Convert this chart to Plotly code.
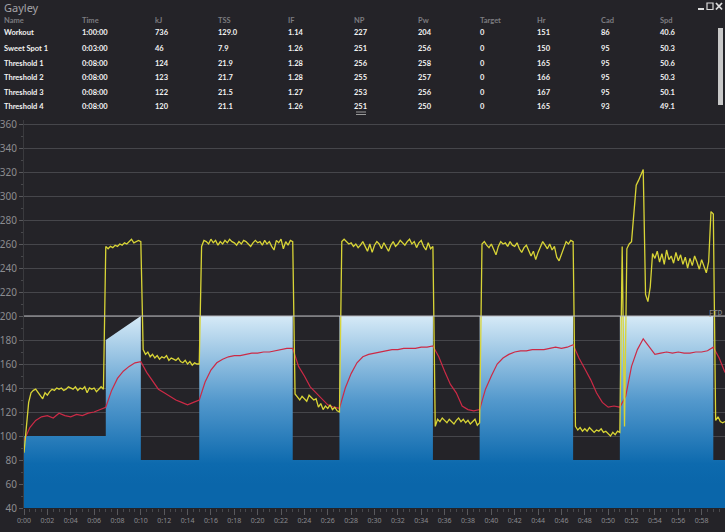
import numpy as np
import plotly.graph_objects as go

## DATA

# table above the chart
table_title = "Gayley"
table_headers = ["Name", "Time", "kJ", "TSS", "IF", "NP", "Pw", "Target", "Hr", "Cad", "Spd"]
table_rows = [
    ["Workout", "1:00:00", "736", "129.0", "1.14", "227", "204", "0", "151", "86", "40.6"],
    ["Sweet Spot 1", "0:03:00", "46", "7.9", "1.26", "251", "256", "0", "150", "95", "50.3"],
    ["Threshold 1", "0:08:00", "124", "21.9", "1.28", "256", "258", "0", "165", "95", "50.6"],
    ["Threshold 2", "0:08:00", "123", "21.7", "1.28", "255", "257", "0", "166", "95", "50.3"],
    ["Threshold 3", "0:08:00", "122", "21.5", "1.27", "253", "256", "0", "167", "95", "50.1"],
    ["Threshold 4", "0:08:00", "120", "21.1", "1.26", "251", "250", "0", "165", "93", "49.1"],
]

# target power (minutes, watts)
target_min = [0, 7, 7, 10, 10, 15, 15, 23, 23, 27, 27, 35, 35, 39, 39, 47, 47, 51, 51, 59, 59, 60]
target_w = [100, 100, 180, 200, 80, 80, 200, 200, 80, 80, 200, 200, 80, 80, 200, 200, 80, 80, 200, 200, 80, 80]
ftp = 200

# power, one value every 12 s (0.2 min), one row per minute
power_w = [
    86, 105, 128, 136, 138,
    139, 136, 133, 131, 136,
    134, 137, 139, 138, 140,
    139, 140, 138, 139, 141,
    140, 139, 141, 138, 140,
    139, 141, 136, 140, 139,
    140, 137, 139, 141, 139,
    258, 256, 258, 257, 259,
    258, 260, 259, 261, 260,
    262, 264, 261, 262, 263,
    262, 172, 168, 170, 166,
    168, 165, 167, 164, 166,
    165, 167, 163, 165, 164,
    163, 165, 162, 161, 163,
    160, 162, 159, 161, 160,
    160, 258, 263, 262, 260,
    264, 261, 263, 259, 262,
    260, 263, 261, 264, 262,
    261, 259, 262, 260, 263,
    262, 260, 258, 261, 263,
    261, 262, 259, 263, 260,
    262, 258, 255, 263, 261,
    264, 256, 262, 259, 263,
    262, 135, 132, 130, 133,
    131, 129, 134, 132, 130,
    131, 124, 127, 122, 125,
    123, 126, 122, 124, 121,
    120, 262, 264, 262, 260,
    261, 258, 260, 257, 259,
    262, 258, 254, 260, 253,
    259, 262, 260, 256, 261,
    257, 254, 259, 262, 258,
    260, 263, 261, 259, 262,
    264, 260, 262, 257, 261,
    263, 258, 255, 261, 256,
    258, 108, 114, 112, 115,
    113, 111, 114, 112, 110,
    113, 115, 112, 114, 111,
    113, 110, 112, 114, 109,
    111, 260, 262, 259, 257,
    260, 256, 251, 258, 262,
    260, 261, 258, 262, 259,
    258, 261, 256, 253, 257,
    259, 255, 250, 254, 247,
    253, 258, 262, 259, 256,
    260, 255, 258, 249, 246,
    251, 256, 262, 260, 263,
    262, 108, 105, 107, 104,
    106, 104, 107, 105, 103,
    105, 104, 106, 103, 104,
    102, 100, 103, 101, 104,
    103, 258, 108, 256, 260,
    262, 286, 309, 313, 318,
    322, 218, 212, 224, 252,
    248, 254, 245, 252, 243,
    255, 247, 250, 244, 253,
    246, 251, 243, 249, 240,
    248, 242, 250, 245, 239,
    247, 241, 236, 245, 287,
    285, 113, 116, 112, 111,
    112,
]

# heart rate, one value every 30 s
hr_bpm = [
    96, 107, 113, 116, 117, 115, 119, 117, 116, 118,
    117, 119, 120, 122, 124,
    138, 148, 154, 158, 161, 162,
    153, 146, 139, 136, 133, 130, 128, 126, 128, 130,
    145, 155, 161, 164, 166, 167, 167, 168, 169, 169, 170, 170, 171, 172, 173, 173,
    158, 150, 141, 136, 131, 126, 124, 123,
    140, 152, 161, 166, 168, 169, 170, 171, 172, 172, 173, 173, 173, 174, 174, 175,
    166, 154, 143, 136, 125, 122, 121, 122,
    139, 150, 160, 165, 168, 170, 171, 171, 172, 172, 172, 173, 174, 173, 174, 176,
    165, 156, 147, 136, 128, 124, 125, 124,
    133, 158, 172, 181, 174, 168, 169, 170, 169, 170, 169, 169, 170, 170, 171, 174,
    165, 153,
]

x_tick_vals = list(range(0, 61, 2))
x_tick_text = ["0:00", "0:02", "0:04", "0:06", "0:08", "0:10", "0:12", "0:14", "0:16", "0:18",
               "0:20", "0:22", "0:24", "0:26", "0:28", "0:30", "0:32", "0:34", "0:36", "0:38",
               "0:40", "0:42", "0:44", "0:46", "0:48", "0:50", "0:52", "0:54", "0:56", "0:58", "1:00"]

power_min = np.arange(len(power_w)) * 0.2
hr_min = np.arange(len(hr_bpm)) * 0.5

## LAYOUT HELPERS

BG = "#242328"
FONT = "Noto Sans"
TABLE_FONT = "Lato"
W, H = 725, 532
L, R, T, B = 24, 0, 120, 24
PW, PH = W - L - R, H - T - B


def px(x):
    # pixel x -> paper x
    return (x - L) / PW


def py(y):
    # pixel y -> paper y
    return (H - B - y) / PH


## FIGURE

fig = go.Figure()

# target power, blue gradient fill
fig.add_trace(go.Scatter(
    x=target_min, y=target_w, mode="lines", line=dict(width=0),
    fill="tozeroy",
    fillgradient=dict(type="vertical", start=60, stop=200,
                      colorscale=[[0, "#0a66aa"], [0.12, "#0d6aae"], [0.5, "#5499cd"], [1, "#d6eaf7"]]),
    hoverinfo="skip", showlegend=False,
))

# heart rate
fig.add_trace(go.Scatter(
    x=hr_min, y=hr_bpm, mode="lines", line=dict(color="#cc2a46", width=1.2),
    showlegend=False,
))

# power
fig.add_trace(go.Scatter(
    x=power_min, y=power_w, mode="lines", line=dict(color="#d8d436", width=1.3),
    showlegend=False,
))

shapes = [
    # FTP line
    dict(type="line", xref="paper", yref="y", x0=0, x1=1, y0=ftp, y1=ftp,
         line=dict(color="#b8b8bc", width=1), layer="above"),
    # scrollbar
    dict(type="rect", xref="paper", yref="paper", x0=px(718), x1=px(723), y0=py(105), y1=py(28),
         fillcolor="#c8c8c8", line=dict(width=0)),
    # splitter grip
    dict(type="line", xref="paper", yref="paper", x0=px(356), x1=px(366), y0=py(112), y1=py(112),
         line=dict(color="#9a9a9a", width=1)),
    dict(type="line", xref="paper", yref="paper", x0=px(356), x1=px(366), y0=py(114.5), y1=py(114.5),
         line=dict(color="#9a9a9a", width=1)),
    # window buttons
    dict(type="line", xref="paper", yref="paper", x0=px(698), x1=px(704), y0=py(9), y1=py(9),
         line=dict(color="#dcdcdc", width=2)),
    dict(type="rect", xref="paper", yref="paper", x0=px(707), x1=px(713), y0=py(9.5), y1=py(3),
         line=dict(color="#dcdcdc", width=1.2)),
    dict(type="line", xref="paper", yref="paper", x0=px(716), x1=px(722), y0=py(9.5), y1=py(3),
         line=dict(color="#dcdcdc", width=1.8)),
    dict(type="line", xref="paper", yref="paper", x0=px(716), x1=px(722), y0=py(3), y1=py(9.5),
         line=dict(color="#dcdcdc", width=1.8)),
]

annotations = [
    dict(text=table_title, x=px(2), y=py(8), xref="paper", yref="paper", xanchor="left",
         yanchor="middle", showarrow=False, font=dict(family=FONT, size=11, color="#a4a4a8")),
    dict(text="FTP", x=px(725), y=py(313), xref="paper", yref="paper", xanchor="right",
         yanchor="middle", showarrow=False, font=dict(family=FONT, size=8, color="#8a8a8e")),
]

col_x = [2, 80, 153, 216, 286, 352, 416, 478, 535, 599, 658]
row_y = [33, 48, 63, 78, 92, 107]
for cx, head in zip(col_x, table_headers):
    annotations.append(dict(text="<b>" + head + "</b>", x=px(cx), y=py(20), xref="paper", yref="paper",
                            xanchor="left", yanchor="middle", showarrow=False,
                            font=dict(family=TABLE_FONT, size=7.5, color="#7c7c80")))
for ry, row in zip(row_y, table_rows):
    for cx, cell in zip(col_x, row):
        annotations.append(dict(text="<b>" + cell + "</b>", x=px(cx), y=py(ry), xref="paper", yref="paper",
                                xanchor="left", yanchor="middle", showarrow=False,
                                font=dict(family=TABLE_FONT, size=7.5, color="#f2f2f2")))

fig.update_layout(
    width=W, height=H,
    margin=dict(l=L, r=R, t=T, b=B, pad=0),
    paper_bgcolor=BG, plot_bgcolor=BG,
    shapes=shapes, annotations=annotations,
    showlegend=False,
    xaxis=dict(range=[0, 60], tickvals=x_tick_vals, ticktext=x_tick_text,
               showgrid=False, zeroline=False, showline=False,
               ticks="outside", ticklen=6, tickcolor="#58585c", tickwidth=1,
               minor=dict(dtick=0.5, ticks="outside", ticklen=3, tickcolor="#48484c", showgrid=False),
               tickfont=dict(family=FONT, size=7, color="#8a8a8e"), tickangle=0),
    yaxis=dict(range=[40, 40 + PH / 1.2], tickvals=list(range(40, 361, 20)),
               showgrid=True, gridcolor="#46464b", gridwidth=1, zeroline=False,
               showline=True, linecolor="#3a3a3e",
               ticks="outside", ticklen=4, tickcolor="#58585c",
               minor=dict(dtick=10, ticks="outside", ticklen=2, tickcolor="#48484c", showgrid=False),
               tickfont=dict(family=FONT, size=10, color="#8c8c90")),
)

fig.write_html("out.html", config={"displayModeBar": False},
               post_script="document.body.style.margin='0';document.body.style.background='%s';" % BG)
